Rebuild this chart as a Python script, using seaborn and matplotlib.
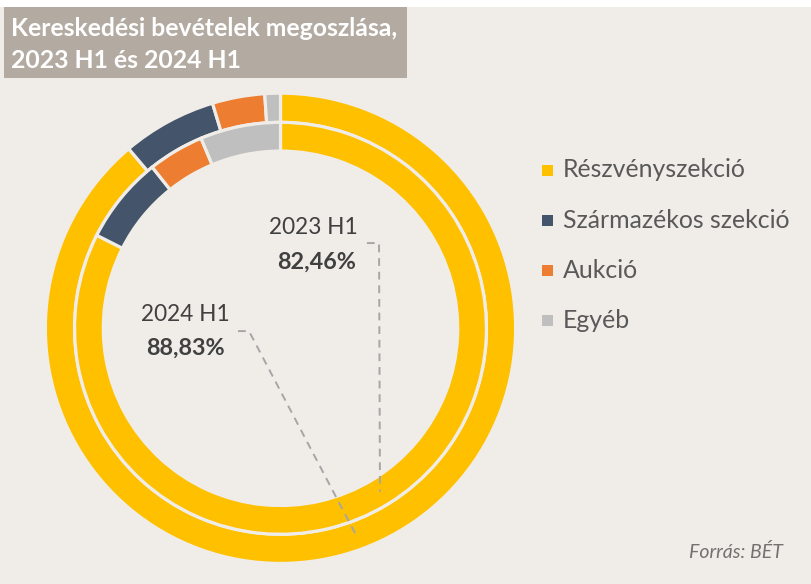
import seaborn as sns
import matplotlib.pyplot as plt
from matplotlib.patches import Rectangle

# adatok (leolvasva)
categories = ["Részvényszekció", "Származékos szekció", "Aukció", "Egyéb"]
share_2023 = [82.46, 6.84, 4.40, 6.30]   # belső gyűrű
share_2024 = [88.83, 6.50, 3.60, 1.07]   # külső gyűrű
periods = ["2023 H1", "2024 H1"]
labels_pct = ["82,46%", "88,83%"]

colors = sns.color_palette(["#FFC000", "#44546A", "#ED7D31", "#BFBFBF"])
bg = "#F0EDE9"
text_col = "#404040"

sns.set_theme(style="white")
plt.rcParams['font.family'] = ['Lato', 'DejaVu Sans']

W, H = 812, 584
fig = plt.figure(figsize=(W / 100, H / 100), dpi=100, facecolor=bg)

# fehér csík felül + cím doboz
fig.patches.append(Rectangle((0, 1 - 7 / H), 1, 7 / H, transform=fig.transFigure,
                             facecolor="white", edgecolor="none", zorder=0))
fig.patches.append(Rectangle((4 / W, 1 - 78 / H), 403 / W, 71 / H, transform=fig.transFigure,
                             facecolor="#B3ABA2", edgecolor="none", zorder=1))
fig.text(11 / W, 1 - 29 / H, "Kereskedési bevételek megoszlása,", color="white",
         fontsize=17.8, fontweight="bold", va="center", ha="left")
fig.text(11 / W, 1 - 60 / H, "2023 H1 és 2024 H1", color="white",
         fontsize=17.8, fontweight="bold", va="center", ha="left")

# fánk diagram
cx, cy, R = 280.5, 328.3, 233.5
ax = fig.add_axes([(cx - R) / W, (H - cy - R) / H, 2 * R / W, 2 * R / H])
ax.set_facecolor(bg)

lw = 2.3
ax.pie(share_2024, colors=colors, radius=1.007, startangle=90, counterclock=False,
       wedgeprops=dict(width=0.125, edgecolor=bg, linewidth=lw))
ax.pie(share_2023, colors=colors, radius=0.882, startangle=90, counterclock=False,
       wedgeprops=dict(width=0.123, edgecolor=bg, linewidth=lw))
ax.set_xlim(-1, 1)
ax.set_ylim(-1, 1)
ax.set_aspect("equal")
ax.axis("off")

# feliratok + vezető vonalak
ax.text(0.139, 0.43, periods[0], ha="center", va="center", fontsize=16.3, color=text_col)
ax.text(0.156, 0.284, labels_pct[0], ha="center", va="center", fontsize=16.8,
        fontweight="bold", color=text_col)
ax.text(-0.409, 0.057, periods[1], ha="center", va="center", fontsize=16.3, color=text_col)
ax.text(-0.409, -0.084, labels_pct[1], ha="center", va="center", fontsize=16.8,
        fontweight="bold", color=text_col)

line_kw = dict(color="#A6A6A6", linewidth=1.4, linestyle=(0, (4, 3)))
ax.plot([0.370, 0.422, 0.426], [0.365, 0.365, -0.70], **line_kw)
ax.plot([-0.182, -0.135, 0.328], [-0.012, -0.012, -0.894], **line_kw)

# jelmagyarázat
for i, (cat, col) in enumerate(zip(categories, colors)):
    y = 170 + i * 50
    fig.patches.append(Rectangle((542 / W, 1 - (y + 5.5) / H), 11 / W, 11 / H,
                                 transform=fig.transFigure, facecolor=col, edgecolor="none"))
    fig.text(563 / W, 1 - y / H, cat, ha="left", va="center", fontsize=17.9, color="#595959")

fig.text(783 / W, 1 - 552 / H, "Forrás: BÉT", ha="right", va="center", fontsize=14,
         style="italic", color="#767171")

fig.savefig("out.png", dpi=100, facecolor=bg)
